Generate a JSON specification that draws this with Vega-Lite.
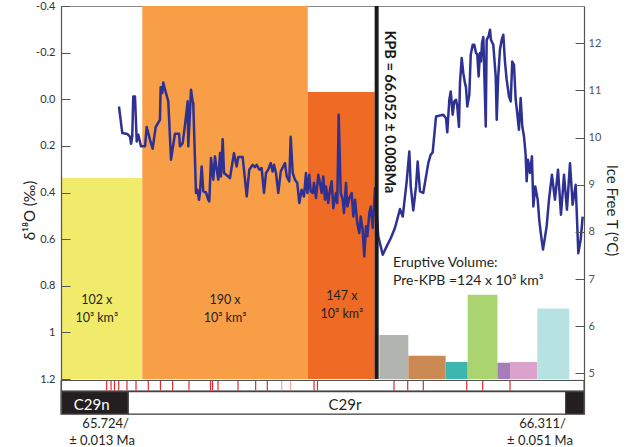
{
  "$schema": "https://vega.github.io/schema/vega-lite/v6.json",
  "width": 523,
  "height": 408,
  "autosize": {"type": "none"},
  "padding": {"left": 61, "top": 6, "right": 48, "bottom": 33},
  "background": "white",
  "config": {
    "font": "Lato",
    "view": {"stroke": "#8a8a8a", "strokeWidth": 1},
    "axis": {"grid": false, "labelFont": "Lato", "titleFont": "Lato", "labelColor": "#333333", "titleColor": "#231F20", "tickColor": "#555555", "domainColor": "#555555"}
  },
  "datasets": {
    "volumes": [
      {"episode": "pre-1", "x0": 0, "x1": 0.801, "top": 0.338, "bottom": 1.2},
      {"episode": "pre-2", "x0": 0.801, "x1": 2.431, "top": -0.4, "bottom": 1.2},
      {"episode": "pre-3", "x0": 2.431, "x1": 3.091, "top": -0.031, "bottom": 1.2},
      {"episode": "post-1", "x0": 3.136, "x1": 3.422, "top": 1.011, "bottom": 1.2},
      {"episode": "post-2", "x0": 3.422, "x1": 3.79, "top": 1.1, "bottom": 1.2},
      {"episode": "post-3", "x0": 3.79, "x1": 4.007, "top": 1.127, "bottom": 1.2},
      {"episode": "post-4", "x0": 4.007, "x1": 4.3, "top": 0.838, "bottom": 1.2},
      {"episode": "post-5", "x0": 4.3, "x1": 4.424, "top": 1.13, "bottom": 1.2},
      {"episode": "post-6", "x0": 4.424, "x1": 4.693, "top": 1.127, "bottom": 1.2},
      {"episode": "post-7", "x0": 4.693, "x1": 5.008, "top": 0.898, "bottom": 1.2}
    ],
    "d18O": [
      {"pos":0.571,"d18O":0.031},{"pos":0.604,"d18O":0.145},{"pos":0.653,"d18O":0.149},{"pos":0.68,"d18O":0.16},{"pos":0.69,"d18O":0.191},{"pos":0.702,"d18O":0.16},{"pos":0.712,"d18O":-0.012},{"pos":0.729,"d18O":-0.012},{"pos":0.746,"d18O":0.181},{"pos":0.762,"d18O":0.152},{"pos":0.788,"d18O":0.202},{"pos":0.828,"d18O":0.202},{"pos":0.844,"d18O":0.119},{"pos":0.877,"d18O":0.174},{"pos":0.903,"d18O":0.212},{"pos":0.933,"d18O":0.119},{"pos":0.975,"d18O":0.088},{"pos":0.982,"d18O":-0.052},{"pos":0.998,"d18O":-0.027},{"pos":1.008,"d18O":-0.072},{"pos":1.025,"d18O":-0.041},{"pos":1.057,"d18O":0.009},{"pos":1.084,"d18O":0.259},{"pos":1.123,"d18O":0.148},{"pos":1.163,"d18O":0.148},{"pos":1.172,"d18O":0.202},{"pos":1.199,"d18O":0.188},{"pos":1.222,"d18O":0.109},{"pos":1.248,"d18O":0.009},{"pos":1.254,"d18O":0.202},{"pos":1.281,"d18O":-0.041},{"pos":1.297,"d18O":0.009},{"pos":1.303,"d18O":0.016},{"pos":1.33,"d18O":0.402},{"pos":1.343,"d18O":0.388},{"pos":1.36,"d18O":0.431},{"pos":1.369,"d18O":0.402},{"pos":1.386,"d18O":0.288},{"pos":1.402,"d18O":0.395},{"pos":1.429,"d18O":0.4},{"pos":1.451,"d18O":0.431},{"pos":1.461,"d18O":0.438},{"pos":1.478,"d18O":0.252},{"pos":1.5,"d18O":0.345},{"pos":1.517,"d18O":0.245},{"pos":1.534,"d18O":0.302},{"pos":1.55,"d18O":0.345},{"pos":1.567,"d18O":0.231},{"pos":1.576,"d18O":0.331},{"pos":1.593,"d18O":0.171},{"pos":1.606,"d18O":0.316},{"pos":1.648,"d18O":0.331},{"pos":1.665,"d18O":0.338},{"pos":1.704,"d18O":0.231},{"pos":1.731,"d18O":0.288},{"pos":1.747,"d18O":0.248},{"pos":1.79,"d18O":0.248},{"pos":1.83,"d18O":0.417},{"pos":1.855,"d18O":0.302},{"pos":1.889,"d18O":0.281},{"pos":1.911,"d18O":0.291},{"pos":1.928,"d18O":0.281},{"pos":1.954,"d18O":0.302},{"pos":1.977,"d18O":0.295},{"pos":2.0,"d18O":0.402},{"pos":2.02,"d18O":0.316},{"pos":2.042,"d18O":0.302},{"pos":2.066,"d18O":0.274},{"pos":2.085,"d18O":0.31},{"pos":2.099,"d18O":0.281},{"pos":2.118,"d18O":0.316},{"pos":2.141,"d18O":0.402},{"pos":2.165,"d18O":0.31},{"pos":2.19,"d18O":0.288},{"pos":2.207,"d18O":0.274},{"pos":2.224,"d18O":0.331},{"pos":2.249,"d18O":0.352},{"pos":2.263,"d18O":0.161},{"pos":2.283,"d18O":0.316},{"pos":2.305,"d18O":0.345},{"pos":2.328,"d18O":0.359},{"pos":2.348,"d18O":0.445},{"pos":2.371,"d18O":0.388},{"pos":2.394,"d18O":0.417},{"pos":2.414,"d18O":0.316},{"pos":2.427,"d18O":0.402},{"pos":2.446,"d18O":0.324},{"pos":2.46,"d18O":0.395},{"pos":2.48,"d18O":0.402},{"pos":2.493,"d18O":0.359},{"pos":2.512,"d18O":0.424},{"pos":2.535,"d18O":0.324},{"pos":2.552,"d18O":0.359},{"pos":2.568,"d18O":0.402},{"pos":2.584,"d18O":0.331},{"pos":2.601,"d18O":0.431},{"pos":2.611,"d18O":0.374},{"pos":2.633,"d18O":0.445},{"pos":2.65,"d18O":0.388},{"pos":2.667,"d18O":0.352},{"pos":2.683,"d18O":0.467},{"pos":2.709,"d18O":0.402},{"pos":2.722,"d18O":0.445},{"pos":2.736,"d18O":0.066},{"pos":2.756,"d18O":0.402},{"pos":2.776,"d18O":0.431},{"pos":2.788,"d18O":0.488},{"pos":2.808,"d18O":0.359},{"pos":2.821,"d18O":0.46},{"pos":2.841,"d18O":0.424},{"pos":2.864,"d18O":0.402},{"pos":2.88,"d18O":0.503},{"pos":2.897,"d18O":0.431},{"pos":2.919,"d18O":0.531},{"pos":2.939,"d18O":0.574},{"pos":2.953,"d18O":0.503},{"pos":2.972,"d18O":0.56},{"pos":2.988,"d18O":0.674},{"pos":3.005,"d18O":0.545},{"pos":3.018,"d18O":0.588},{"pos":3.038,"d18O":0.488},{"pos":3.052,"d18O":0.46},{"pos":3.071,"d18O":0.552},{"pos":3.094,"d18O":0.381},{"pos":3.126,"d18O":0.588},{"pos":3.17,"d18O":0.667},{"pos":3.209,"d18O":0.631},{"pos":3.251,"d18O":0.594},{"pos":3.291,"d18O":0.551},{"pos":3.34,"d18O":0.471},{"pos":3.367,"d18O":0.503},{"pos":3.406,"d18O":0.352},{"pos":3.432,"d18O":0.224},{"pos":3.446,"d18O":0.374},{"pos":3.471,"d18O":0.477},{"pos":3.498,"d18O":0.374},{"pos":3.514,"d18O":0.267},{"pos":3.537,"d18O":0.395},{"pos":3.569,"d18O":0.402},{"pos":3.619,"d18O":0.274},{"pos":3.642,"d18O":0.238},{"pos":3.662,"d18O":0.228},{"pos":3.695,"d18O":0.074},{"pos":3.767,"d18O":0.066},{"pos":3.793,"d18O":0.081},{"pos":3.806,"d18O":0.142},{"pos":3.826,"d18O":0.002},{"pos":3.84,"d18O":-0.033},{"pos":3.859,"d18O":0.066},{"pos":3.875,"d18O":0.009},{"pos":3.892,"d18O":0.002},{"pos":3.904,"d18O":0.028},{"pos":3.921,"d18O":0.119},{"pos":3.931,"d18O":-0.069},{"pos":3.948,"d18O":-0.177},{"pos":3.964,"d18O":-0.112},{"pos":3.98,"d18O":-0.069},{"pos":3.99,"d18O":-0.052},{"pos":4.003,"d18O":0.031},{"pos":4.023,"d18O":-0.019},{"pos":4.037,"d18O":-0.191},{"pos":4.056,"d18O":-0.234},{"pos":4.072,"d18O":-0.234},{"pos":4.089,"d18O":-0.198},{"pos":4.101,"d18O":-0.195},{"pos":4.115,"d18O":-0.098},{"pos":4.128,"d18O":-0.198},{"pos":4.138,"d18O":-0.162},{"pos":4.148,"d18O":-0.241},{"pos":4.161,"d18O":-0.267},{"pos":4.185,"d18O":0.117},{"pos":4.194,"d18O":-0.255},{"pos":4.214,"d18O":-0.272},{"pos":4.227,"d18O":-0.298},{"pos":4.236,"d18O":-0.255},{"pos":4.259,"d18O":-0.234},{"pos":4.283,"d18O":-0.098},{"pos":4.293,"d18O":0.088},{"pos":4.308,"d18O":-0.098},{"pos":4.325,"d18O":-0.212},{"pos":4.342,"d18O":-0.255},{"pos":4.358,"d18O":-0.277},{"pos":4.374,"d18O":-0.162},{"pos":4.391,"d18O":-0.084},{"pos":4.414,"d18O":-0.012},{"pos":4.431,"d18O":0.009},{"pos":4.446,"d18O":-0.162},{"pos":4.463,"d18O":-0.148},{"pos":4.48,"d18O":0.002},{"pos":4.495,"d18O":0.059},{"pos":4.512,"d18O":0.131},{"pos":4.529,"d18O":-0.005},{"pos":4.545,"d18O":0.117},{"pos":4.562,"d18O":0.16},{"pos":4.578,"d18O":0.238},{"pos":4.588,"d18O":0.352},{"pos":4.601,"d18O":0.259},{"pos":4.621,"d18O":0.316},{"pos":4.64,"d18O":0.245},{"pos":4.654,"d18O":0.46},{"pos":4.673,"d18O":0.374},{"pos":4.697,"d18O":0.431},{"pos":4.712,"d18O":0.517},{"pos":4.729,"d18O":0.581},{"pos":4.749,"d18O":0.645},{"pos":4.785,"d18O":0.545},{"pos":4.808,"d18O":0.431},{"pos":4.837,"d18O":0.324},{"pos":4.867,"d18O":0.431},{"pos":4.897,"d18O":0.302},{"pos":4.926,"d18O":0.495},{"pos":4.956,"d18O":0.324},{"pos":4.985,"d18O":0.474},{"pos":5.015,"d18O":0.274},{"pos":5.041,"d18O":0.452},{"pos":5.071,"d18O":0.367},{"pos":5.097,"d18O":0.66},{"pos":5.12,"d18O":0.603},{"pos":5.14,"d18O":0.503}
    ],
    "events": [
      {"event": "KPB", "pos": 3.11, "label": "KPB = 66.052 ± 0.008Ma", "labelPos": 3.232, "labelD": 0.054}
    ],
    "volLabels": [
      {"pos": 0.352, "d": 0.86, "text": "102 x"},
      {"pos": 0.352, "d": 0.937, "text": "10³ km³"},
      {"pos": 1.616, "d": 0.86, "text": "190 x"},
      {"pos": 1.616, "d": 0.937, "text": "10³ km³"},
      {"pos": 2.768, "d": 0.843, "text": "147 x"},
      {"pos": 2.768, "d": 0.92, "text": "10³ km³"}
    ],
    "notes": [
      {"pos": 3.271, "d": 0.701, "text": "Eruptive Volume:"},
      {"pos": 3.271, "d": 0.778, "text": "Pre-KPB =124 x 10³ km³"}
    ],
    "strip": [
      {"x0": 0, "x1": 5.153, "top": 1.206, "bottom": 1.251}
    ],
    "reversalTicks": [
      {"pos":0.45,"kind":"strong"},{"pos":0.493,"kind":"strong"},{"pos":0.527,"kind":"strong"},{"pos":0.569,"kind":"strong"},{"pos":0.65,"kind":"strong"},{"pos":0.739,"kind":"strong"},{"pos":0.86,"kind":"strong"},{"pos":0.98,"kind":"strong"},{"pos":1.1,"kind":"strong"},{"pos":1.261,"kind":"strong"},{"pos":1.473,"kind":"strong"},{"pos":1.493,"kind":"strong"},{"pos":1.547,"kind":"strong"},{"pos":1.744,"kind":"strong"},{"pos":1.918,"kind":"strong"},{"pos":2.033,"kind":"strong"},{"pos":2.175,"kind":"faint"},{"pos":2.263,"kind":"faint"},{"pos":2.493,"kind":"strong"},{"pos":2.527,"kind":"strong"},{"pos":3.281,"kind":"strong"},{"pos":3.416,"kind":"strong"},{"pos":3.57,"kind":"strong"},{"pos":3.998,"kind":"strong"},{"pos":4.155,"kind":"strong"},{"pos":4.424,"kind":"strong"}
    ],
    "chrons": [
      {"chron": "C29n", "x0": 0, "x1": 0.663, "mid": 0.302},
      {"chron": "C29r", "x0": 0.663, "x1": 4.972, "mid": 2.798},
      {"chron": "C30n", "x0": 4.972, "x1": 5.153, "mid": 5.06}
    ],
    "ages": [
      {"boundary": "C29n/C29r", "pos": 0.67, "age": "65.724/", "uncPos": 0.404, "unc": "± 0.013 Ma"},
      {"boundary": "C29r/C30n", "pos": 4.975, "age": "66.311/", "uncPos": 4.719, "unc": "± 0.051 Ma"}
    ]
  },
  "resolve": {"scale": {"y": "independent"}},
  "layer": [
    {
      "data": {"name": "volumes"},
      "mark": {"type": "rect"},
      "encoding": {
        "x": {"field": "x0", "type": "quantitative", "scale": {"domain": [0, 5.153], "nice": false, "zero": false},
          "axis": {"orient": "top", "values": [0, 1, 2, 3, 4, 5], "tickSize": -6, "labels": false, "domain": false, "title": null, "tickColor": "#777777", "zindex": 0}},
        "x2": {"field": "x1"},
        "y": {"field": "top", "type": "quantitative", "scale": {"domain": [-0.4, 1.35], "reverse": true, "nice": false, "zero": false},
          "axis": {"orient": "left", "title": "δ¹⁸O (‰)", "values": [-0.4, -0.2, 0, 0.2, 0.4, 0.6, 0.8, 1, 1.2],
            "labelExpr": "datum.value == 1 ? '1' : (datum.value < 0 ? '-' + format(-datum.value, '.1f') : format(datum.value, '.1f'))",
            "tickSize": -9, "labelPadding": 15, "labelFontSize": 11, "titleFontSize": 15, "titleFontWeight": "normal", "titlePadding": -2, "zindex": 1, "domainWidth": 1.2}},
        "y2": {"field": "bottom"},
        "color": {"field": "episode", "type": "nominal", "legend": null,
          "scale": {"domain": ["pre-1", "pre-2", "pre-3", "post-1", "post-2", "post-3", "post-4", "post-5", "post-6", "post-7"],
            "range": ["#F1EB6B", "#F79E47", "#EE6A25", "#B2B5AF", "#CB8A53", "#3DB6AE", "#A9D46F", "#A67CBA", "#DBA3CB", "#B6E3E1"]}}
      }
    },
    {
      "data": {"name": "d18O"},
      "mark": {"type": "line", "color": "#2E3192", "strokeWidth": 2.5, "strokeJoin": "round"},
      "encoding": {
        "x": {"field": "pos", "type": "quantitative", "axis": null},
        "y": {"field": "d18O", "type": "quantitative", "axis": null, "scale": {"domain": [-0.4, 1.35], "reverse": true, "nice": false, "zero": false}}
      }
    },
    {
      "data": {"name": "events"},
      "mark": {"type": "rule", "color": "#1A1A1A", "strokeWidth": 4},
      "encoding": {
        "x": {"field": "pos", "type": "quantitative", "axis": null},
        "y": {"datum": -0.4, "axis": null, "scale": {"domain": [-0.4, 1.35], "reverse": true, "nice": false, "zero": false}},
        "y2": {"datum": 1.2}
      }
    },
    {
      "data": {"name": "events"},
      "mark": {"type": "text", "angle": 90, "fontWeight": "bold", "fontSize": 14.5, "align": "center", "baseline": "middle", "color": "#1A1A1A"},
      "encoding": {
        "x": {"field": "labelPos", "type": "quantitative", "axis": null},
        "y": {"field": "labelD", "type": "quantitative", "axis": null, "scale": {"domain": [-0.4, 1.35], "reverse": true, "nice": false, "zero": false}},
        "text": {"field": "label"}
      }
    },
    {
      "data": {"name": "volLabels"},
      "mark": {"type": "text", "fontSize": 12.5, "align": "center", "baseline": "middle", "color": "#231F20"},
      "encoding": {
        "x": {"field": "pos", "type": "quantitative", "axis": null},
        "y": {"field": "d", "type": "quantitative", "axis": null, "scale": {"domain": [-0.4, 1.35], "reverse": true, "nice": false, "zero": false}},
        "text": {"field": "text"}
      }
    },
    {
      "data": {"name": "notes"},
      "mark": {"type": "text", "fontSize": 14, "align": "left", "baseline": "middle", "color": "#231F20"},
      "encoding": {
        "x": {"field": "pos", "type": "quantitative", "axis": null},
        "y": {"field": "d", "type": "quantitative", "axis": null, "scale": {"domain": [-0.4, 1.35], "reverse": true, "nice": false, "zero": false}},
        "text": {"field": "text"}
      }
    },
    {
      "data": {"name": "strip"},
      "mark": {"type": "rect", "fill": "white", "stroke": "#444444", "strokeWidth": 1},
      "encoding": {
        "x": {"field": "x0", "type": "quantitative", "axis": null},
        "x2": {"field": "x1"},
        "y": {"field": "top", "type": "quantitative", "axis": null, "scale": {"domain": [-0.4, 1.35], "reverse": true, "nice": false, "zero": false}},
        "y2": {"field": "bottom"}
      }
    },
    {
      "data": {"name": "reversalTicks"},
      "mark": {"type": "rule", "strokeWidth": 1.2},
      "encoding": {
        "x": {"field": "pos", "type": "quantitative", "axis": null},
        "y": {"datum": 1.208, "axis": null, "scale": {"domain": [-0.4, 1.35], "reverse": true, "nice": false, "zero": false}},
        "y2": {"datum": 1.249},
        "stroke": {"field": "kind", "type": "nominal", "legend": null, "scale": {"domain": ["strong", "faint"], "range": ["#E8262B", "#F3A3A3"]}}
      }
    },
    {
      "data": {"name": "chrons"},
      "mark": {"type": "rect", "stroke": "#444444", "strokeWidth": 1.2},
      "encoding": {
        "x": {"field": "x0", "type": "quantitative", "axis": null},
        "x2": {"field": "x1"},
        "y": {"datum": 1.254, "axis": null, "scale": {"domain": [-0.4, 1.35], "reverse": true, "nice": false, "zero": false}},
        "y2": {"datum": 1.35},
        "fill": {"field": "chron", "type": "nominal", "legend": null, "scale": {"domain": ["C29n", "C29r", "C30n"], "range": ["#231F20", "#FFFFFF", "#231F20"]}}
      }
    },
    {
      "data": {"name": "chrons"},
      "transform": [{"filter": "datum.chron == 'C29n'"}],
      "mark": {"type": "text", "fontSize": 15, "align": "center", "baseline": "middle", "color": "#FFFFFF"},
      "encoding": {
        "x": {"field": "mid", "type": "quantitative", "axis": null},
        "y": {"datum": 1.31, "axis": null, "scale": {"domain": [-0.4, 1.35], "reverse": true, "nice": false, "zero": false}},
        "text": {"field": "chron"}
      }
    },
    {
      "data": {"name": "chrons"},
      "transform": [{"filter": "datum.chron == 'C29r'"}],
      "mark": {"type": "text", "fontSize": 15, "align": "center", "baseline": "middle", "color": "#231F20"},
      "encoding": {
        "x": {"field": "mid", "type": "quantitative", "axis": null},
        "y": {"datum": 1.31, "axis": null, "scale": {"domain": [-0.4, 1.35], "reverse": true, "nice": false, "zero": false}},
        "text": {"field": "chron"}
      }
    },
    {
      "data": {"name": "ages"},
      "mark": {"type": "text", "fontSize": 13, "align": "right", "baseline": "middle", "color": "#231F20"},
      "encoding": {
        "x": {"field": "pos", "type": "quantitative", "axis": null},
        "y": {"datum": 1.395, "axis": null, "scale": {"domain": [-0.4, 1.35], "reverse": true, "nice": false, "zero": false}},
        "text": {"field": "age"}
      }
    },
    {
      "data": {"name": "ages"},
      "mark": {"type": "text", "fontSize": 13, "align": "center", "baseline": "middle", "color": "#231F20"},
      "encoding": {
        "x": {"field": "uncPos", "type": "quantitative", "axis": null},
        "y": {"datum": 1.467, "axis": null, "scale": {"domain": [-0.4, 1.35], "reverse": true, "nice": false, "zero": false}},
        "text": {"field": "unc"}
      }
    },
    {
      "data": {"values": [{"T": 5}, {"T": 12}]},
      "mark": {"type": "point", "opacity": 0},
      "encoding": {
        "y": {"field": "T", "type": "quantitative", "scale": {"domain": [4.137, 12.792], "nice": false, "zero": false},
          "axis": {"orient": "right", "title": "Ice Free T (°C)", "values": [5, 6, 7, 8, 9, 10, 11, 12], "tickSize": -9, "labelPadding": 13, "labelFontSize": 11, "labelColor": "#555555", "titleFontSize": 15, "titleFontWeight": "normal", "titlePadding": 3, "zindex": 1, "domainWidth": 1.2}}
      }
    }
  ]
}
